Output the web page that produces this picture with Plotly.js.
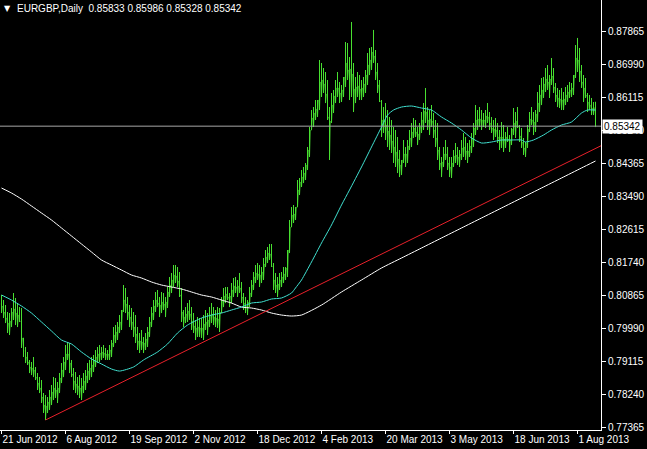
<!DOCTYPE html>
<html>
<head>
<meta charset="utf-8">
<script src="https://cdn.plot.ly/plotly-3.0.1.min.js"></script>
<style>
  html, body { margin: 0; padding: 0; background: #000; }
  #chart { width: 647px; height: 449px; }
</style>
</head>
<body>
<div id="chart"></div>
<script>
// ---- Data (EURGBP, Daily) ----
const symbolTitle = 'EURGBP,Daily';
const tickIdx = [0, 32, 64, 96, 128, 160, 192, 224, 256, 288];
const tickLabels = ['21 Jun 2012', '6 Aug 2012', '19 Sep 2012', '2 Nov 2012', '18 Dec 2012',
  '4 Feb 2013', '20 Mar 2013', '3 May 2013', '18 Jun 2013', '1 Aug 2013'];
const priceTicks = [0.77365, 0.78240, 0.79115, 0.79990, 0.80865, 0.81740, 0.82615,
  0.83490, 0.84365, 0.85240, 0.86115, 0.86990, 0.87865];

const openPrices = [
0.80626,0.80573,0.80414,0.80255,0.80122,0.80175,0.80414,0.80493,0.80387,0.80334,
0.80175,0.79725,0.79380,0.79221,0.79089,0.78956,0.78930,0.78876,0.78690,0.78531,
0.78399,0.78160,0.77948,0.77922,0.78028,0.78160,0.78293,0.78399,0.78346,0.78399,
0.78664,0.78876,0.79089,0.79301,0.79301,0.79062,0.78770,0.78584,0.78505,0.78452,
0.78399,0.78452,0.78584,0.78717,0.78849,0.78930,0.79009,0.79115,0.79221,0.79301,
0.79327,0.79354,0.79327,0.79301,0.79301,0.79407,0.79592,0.79804,0.79884,0.80016,
0.80149,0.80467,0.80732,0.80626,0.80414,0.80281,0.80149,0.80016,0.79831,0.79645,
0.79645,0.79619,0.79592,0.79698,0.79884,0.80149,0.80387,0.80573,0.80732,0.80652,
0.80599,0.80679,0.80626,0.80679,0.80945,0.81130,0.81263,0.81395,0.81369,0.81236,
0.80865,0.80414,0.80281,0.80361,0.80440,0.80361,0.80175,0.80043,0.79990,0.80016,
0.79990,0.79990,0.80096,0.80149,0.80202,0.80334,0.80361,0.80281,0.80255,0.80228,
0.80414,0.80705,0.80839,0.80892,0.80812,0.80839,0.80998,0.81104,0.81077,0.81104,
0.81051,0.80812,0.80652,0.80573,0.80679,0.80918,0.81130,0.81342,0.81448,0.81422,
0.81395,0.81475,0.81687,0.81872,0.81978,0.81952,0.81634,0.81263,0.81130,0.81157,
0.81263,0.81342,0.81422,0.81581,0.82058,0.82668,0.82986,0.83013,0.83198,0.83649,
0.83861,0.83993,0.84099,0.84312,0.84710,0.85240,0.85558,0.85690,0.85796,0.86035,
0.86513,0.86566,0.86460,0.86195,0.85584,0.85478,0.85902,0.86142,0.86354,0.86354,
0.86221,0.86301,0.86645,0.87016,0.86831,0.86857,0.86725,0.86327,0.86380,0.86407,
0.86327,0.86354,0.86460,0.86698,0.86963,0.87096,0.87308,0.87202,0.86778,0.86433,
0.86008,0.85505,0.85478,0.85372,0.85213,0.85107,0.84948,0.84789,0.84657,0.84471,
0.84312,0.84445,0.84604,0.84604,0.84816,0.85028,0.85187,0.85293,0.85187,0.85134,
0.85319,0.85505,0.85743,0.85717,0.85505,0.85531,0.85478,0.85240,0.85028,0.84710,
0.84365,0.84392,0.84604,0.84604,0.84365,0.84259,0.84365,0.84551,0.84577,0.84524,
0.84604,0.84763,0.84789,0.84683,0.84683,0.84816,0.85001,0.85293,0.85505,0.85531,
0.85531,0.85505,0.85505,0.85611,0.85584,0.85425,0.85293,0.85266,0.85240,0.85054,
0.85054,0.85054,0.85001,0.85054,0.85001,0.84975,0.85266,0.85425,0.85478,0.85346,
0.85081,0.84922,0.84763,0.84895,0.85266,0.85531,0.85505,0.85452,0.85664,0.85955,
0.86168,0.86301,0.86460,0.86592,0.86513,0.86592,0.86672,0.86380,0.86168,0.86089,
0.86062,0.86035,0.86062,0.86168,0.86248,0.86301,0.86354,0.86698,0.87149,0.87096,
0.86804,0.86513,0.86354,0.86168,0.85982,0.85902,0.85823,0.85833];

const highPrices = [
0.80865,0.80732,0.80599,0.80414,0.80387,0.80520,0.80918,0.80786,0.80652,0.80546,
0.80520,0.79725,0.79486,0.79354,0.79142,0.79089,0.79221,0.78956,0.78796,0.78690,
0.78611,0.78266,0.78213,0.78160,0.78346,0.78478,0.78690,0.78664,0.78558,0.78796,
0.79062,0.79221,0.79539,0.79619,0.79592,0.79142,0.78930,0.78823,0.78690,0.78743,
0.78664,0.78796,0.78876,0.79062,0.79142,0.79221,0.79274,0.79407,0.79486,0.79539,
0.79486,0.79539,0.79460,0.79407,0.79539,0.79672,0.80016,0.80069,0.80149,0.80334,
0.80467,0.81130,0.81051,0.80812,0.80599,0.80520,0.80414,0.80334,0.80016,0.79857,
0.79937,0.79751,0.79857,0.80016,0.80281,0.80546,0.80732,0.80945,0.80998,0.80812,
0.80945,0.80918,0.80812,0.81077,0.81342,0.81448,0.81660,0.81660,0.81607,0.81475,
0.81051,0.80467,0.80546,0.80652,0.80732,0.80546,0.80387,0.80202,0.80281,0.80255,
0.80255,0.80334,0.80467,0.80387,0.80546,0.80652,0.80546,0.80467,0.80546,0.80520,
0.80812,0.81051,0.81077,0.81077,0.80918,0.81183,0.81316,0.81342,0.81263,0.81448,
0.81210,0.80918,0.80812,0.80732,0.81077,0.81263,0.81475,0.81660,0.81713,0.81660,
0.81607,0.81846,0.82058,0.82137,0.82217,0.82217,0.81713,0.81448,0.81342,0.81448,
0.81475,0.81607,0.81607,0.82058,0.82854,0.83198,0.83251,0.83198,0.83914,0.83967,
0.84179,0.84259,0.84365,0.84789,0.85319,0.85770,0.85849,0.86035,0.86035,0.87096,
0.87016,0.86884,0.86778,0.86566,0.85849,0.86221,0.86301,0.86566,0.86778,0.86513,
0.86433,0.86645,0.87573,0.87546,0.87175,0.88104,0.87016,0.86645,0.86778,0.86698,
0.86566,0.86645,0.86831,0.87281,0.87414,0.87440,0.87892,0.87361,0.87016,0.86566,
0.86035,0.85849,0.85955,0.85770,0.85584,0.85505,0.85319,0.85240,0.85054,0.84710,
0.84445,0.84975,0.84789,0.84975,0.85240,0.85425,0.85558,0.85505,0.85319,0.85425,
0.85717,0.85955,0.86354,0.85849,0.85770,0.85902,0.85690,0.85505,0.85425,0.84789,
0.84524,0.84789,0.84975,0.84789,0.84524,0.84524,0.84710,0.84895,0.84789,0.84710,
0.84975,0.85160,0.85054,0.84895,0.84975,0.85160,0.85425,0.85902,0.85770,0.85849,
0.85770,0.85690,0.85770,0.85955,0.85717,0.85584,0.85505,0.85558,0.85425,0.85240,
0.85452,0.85372,0.85187,0.85319,0.85107,0.85293,0.85823,0.85717,0.85849,0.85372,
0.85293,0.85028,0.84922,0.85372,0.85717,0.85849,0.85717,0.85770,0.86248,0.86433,
0.86619,0.86645,0.86884,0.86963,0.86698,0.87149,0.86884,0.86486,0.86354,0.86301,
0.86354,0.86248,0.86380,0.86433,0.86513,0.86486,0.86698,0.87493,0.87680,0.87414,
0.86963,0.86698,0.86619,0.86221,0.86168,0.86089,0.85982,0.85986];

const lowPrices = [
0.80387,0.80255,0.80122,0.79857,0.79804,0.80016,0.80202,0.80069,0.80016,0.80149,
0.79460,0.79221,0.79062,0.79009,0.78796,0.78743,0.78690,0.78611,0.78346,0.78266,
0.78001,0.77736,0.77551,0.77736,0.77816,0.77948,0.78081,0.78134,0.78001,0.78266,
0.78531,0.78690,0.78876,0.79142,0.78796,0.78690,0.78346,0.78266,0.78213,0.78134,
0.78081,0.78266,0.78346,0.78531,0.78611,0.78690,0.78823,0.78956,0.79062,0.79089,
0.79142,0.79195,0.79142,0.79142,0.79142,0.79221,0.79486,0.79592,0.79672,0.79857,
0.79937,0.80414,0.80387,0.80202,0.80016,0.79937,0.79751,0.79592,0.79407,0.79327,
0.79407,0.79327,0.79407,0.79486,0.79751,0.80016,0.80202,0.80414,0.80546,0.80281,
0.80387,0.80467,0.80281,0.80520,0.80812,0.80918,0.81077,0.81183,0.81077,0.80812,
0.80149,0.80016,0.80122,0.80149,0.80202,0.79937,0.79857,0.79672,0.79751,0.79751,
0.79725,0.79672,0.79937,0.79804,0.80016,0.80122,0.80069,0.80016,0.79990,0.79884,
0.80387,0.80546,0.80652,0.80732,0.80546,0.80652,0.80812,0.80918,0.80812,0.80918,
0.80652,0.80467,0.80387,0.80334,0.80546,0.80812,0.80998,0.81183,0.81263,0.81077,
0.81183,0.81263,0.81607,0.81713,0.81793,0.81607,0.80998,0.80918,0.80812,0.80998,
0.81077,0.81183,0.81263,0.81342,0.81978,0.82668,0.82774,0.82854,0.83198,0.83516,
0.83728,0.83834,0.83914,0.84179,0.84524,0.85240,0.85319,0.85505,0.85584,0.85770,
0.86115,0.86221,0.85955,0.85505,0.84445,0.85425,0.85690,0.85955,0.86115,0.85955,
0.85982,0.86115,0.86380,0.86566,0.86035,0.86115,0.85717,0.85955,0.86115,0.86035,
0.86035,0.86115,0.86221,0.86433,0.86698,0.86831,0.87016,0.86566,0.86221,0.85982,
0.85054,0.85160,0.84975,0.84789,0.84710,0.84630,0.84365,0.84259,0.84099,0.83993,
0.84046,0.84365,0.84259,0.84365,0.84710,0.84789,0.85028,0.85054,0.84842,0.84975,
0.85160,0.85240,0.85425,0.85240,0.85107,0.85319,0.85028,0.84789,0.84445,0.84179,
0.83993,0.84259,0.84445,0.84179,0.83993,0.83967,0.84259,0.84365,0.84312,0.84259,
0.84445,0.84524,0.84445,0.84365,0.84524,0.84630,0.84789,0.85107,0.85240,0.85319,
0.85240,0.85319,0.85293,0.85425,0.85240,0.85160,0.84975,0.85054,0.84895,0.84710,
0.84763,0.84657,0.84763,0.84922,0.84657,0.84842,0.85107,0.85028,0.85293,0.84922,
0.84763,0.84577,0.84524,0.84763,0.85187,0.85372,0.85107,0.85187,0.85452,0.85717,
0.85902,0.86089,0.86248,0.86301,0.86089,0.86433,0.86221,0.85982,0.85849,0.85823,
0.85770,0.85770,0.85902,0.85982,0.86089,0.86115,0.86168,0.86619,0.86778,0.86513,
0.86354,0.85982,0.86089,0.85717,0.85770,0.85637,0.85637,0.85328];

const closePrices = [
0.80573,0.80414,0.80255,0.80122,0.80175,0.80414,0.80493,0.80387,0.80334,0.80175,
0.79725,0.79380,0.79221,0.79089,0.78956,0.78930,0.78876,0.78690,0.78531,0.78399,
0.78160,0.77948,0.77922,0.78028,0.78160,0.78293,0.78399,0.78346,0.78399,0.78664,
0.78876,0.79089,0.79301,0.79301,0.79062,0.78770,0.78584,0.78505,0.78452,0.78399,
0.78452,0.78584,0.78717,0.78849,0.78930,0.79009,0.79115,0.79221,0.79301,0.79327,
0.79354,0.79327,0.79301,0.79301,0.79407,0.79592,0.79804,0.79884,0.80016,0.80149,
0.80467,0.80732,0.80626,0.80414,0.80281,0.80149,0.80016,0.79831,0.79645,0.79645,
0.79619,0.79592,0.79698,0.79884,0.80149,0.80387,0.80573,0.80732,0.80652,0.80599,
0.80679,0.80626,0.80679,0.80945,0.81130,0.81263,0.81395,0.81369,0.81236,0.80865,
0.80414,0.80281,0.80361,0.80440,0.80361,0.80175,0.80043,0.79990,0.80016,0.79990,
0.79990,0.80096,0.80149,0.80202,0.80334,0.80361,0.80281,0.80255,0.80228,0.80414,
0.80705,0.80839,0.80892,0.80812,0.80839,0.80998,0.81104,0.81077,0.81104,0.81051,
0.80812,0.80652,0.80573,0.80679,0.80918,0.81130,0.81342,0.81448,0.81422,0.81395,
0.81475,0.81687,0.81872,0.81978,0.81952,0.81634,0.81263,0.81130,0.81157,0.81263,
0.81342,0.81422,0.81581,0.82058,0.82668,0.82986,0.83013,0.83198,0.83649,0.83861,
0.83993,0.84099,0.84312,0.84710,0.85240,0.85558,0.85690,0.85796,0.86035,0.86513,
0.86566,0.86460,0.86195,0.85584,0.85478,0.85902,0.86142,0.86354,0.86354,0.86221,
0.86301,0.86645,0.87016,0.86831,0.86857,0.86725,0.86327,0.86380,0.86407,0.86327,
0.86354,0.86460,0.86698,0.86963,0.87096,0.87308,0.87202,0.86778,0.86433,0.86008,
0.85505,0.85478,0.85372,0.85213,0.85107,0.84948,0.84789,0.84657,0.84471,0.84312,
0.84445,0.84604,0.84604,0.84816,0.85028,0.85187,0.85293,0.85187,0.85134,0.85319,
0.85505,0.85743,0.85717,0.85505,0.85531,0.85478,0.85240,0.85028,0.84710,0.84365,
0.84392,0.84604,0.84604,0.84365,0.84259,0.84365,0.84551,0.84577,0.84524,0.84604,
0.84763,0.84789,0.84683,0.84683,0.84816,0.85001,0.85293,0.85505,0.85531,0.85531,
0.85505,0.85505,0.85611,0.85584,0.85425,0.85293,0.85266,0.85240,0.85054,0.85054,
0.85054,0.85001,0.85054,0.85001,0.84975,0.85266,0.85425,0.85478,0.85346,0.85081,
0.84922,0.84763,0.84895,0.85266,0.85531,0.85505,0.85452,0.85664,0.85955,0.86168,
0.86301,0.86460,0.86592,0.86513,0.86592,0.86672,0.86380,0.86168,0.86089,0.86062,
0.86035,0.86062,0.86168,0.86248,0.86301,0.86354,0.86698,0.87149,0.87096,0.86804,
0.86513,0.86354,0.86168,0.85982,0.85902,0.85823,0.85833,0.85342];

// Moving averages (sampled along the drawn curves)
const fastMaIdx = [0,5,10,15,20,25,30,35,40,45,50,55,59,66,71,78,83,88,93,100,
  105,110,115,120,125,130,135,140,145,147,150,155,160,165,170,174,180,185,190,193,
  196,200,205,210,215,220,225,230,235,240,245,250,255,260,262,266,271,275,280,285,
  290,293,297];
const fastMaVals = [0.80865,0.80732,0.80573,0.80387,0.80149,0.79910,0.79672,0.79566,0.79354,0.79168,
  0.79036,0.78903,0.78849,0.78956,0.79142,0.79354,0.79566,0.79857,0.80069,0.80255,
  0.80334,0.80387,0.80467,0.80546,0.80652,0.80679,0.80759,0.80786,0.80918,0.81051,
  0.81263,0.81740,0.82243,0.82721,0.83251,0.83649,0.84259,0.84789,0.85319,0.85637,
  0.85770,0.85849,0.85876,0.85823,0.85770,0.85584,0.85425,0.85240,0.85028,0.84895,
  0.84922,0.84975,0.84975,0.84975,0.84922,0.84975,0.85107,0.85240,0.85372,0.85452,
  0.85690,0.85770,0.85770];
const slowMaIdx = [0,5,10,15,20,25,30,35,40,45,50,55,60,65,70,75,80,85,90,95,
  100,105,110,115,120,125,130,135,140,145,150,160,170,180,190,200,210,220,230,240,
  250,260,270,280,290,297];
const slowMaVals = [0.83702,0.83569,0.83410,0.83225,0.83039,0.82854,0.82642,0.82430,0.82217,0.82005,
  0.81793,0.81660,0.81528,0.81395,0.81316,0.81210,0.81130,0.81077,0.81024,0.80945,
  0.80865,0.80812,0.80732,0.80652,0.80546,0.80520,0.80467,0.80387,0.80334,0.80308,
  0.80334,0.80599,0.80945,0.81263,0.81581,0.81846,0.82111,0.82377,0.82642,0.82907,
  0.83172,0.83437,0.83702,0.83967,0.84233,0.84418];

// Trend line anchors (bar index, price)
const trendIdx = [22, 300];
const trendVals = [0.77551, 0.84829];

const bidPrice = closePrices[closePrices.length - 1];
const lastBar = closePrices.length - 1;

// ---- Build the OHLC bar glyphs (high-low stem + open/close ticks) ----
const tickHalf = 0.3;
const barX = [], barY = [];
closePrices.forEach((c, i) => {
  barX.push(i - tickHalf, i, i, i, i, i + tickHalf, null);
  barY.push(openPrices[i], openPrices[i], highPrices[i], lowPrices[i], c, c, null);
});
const fmt = v => v.toFixed(5);

const traces = [
  {
    type: 'scatter', mode: 'lines', x: barX, y: barY, connectgaps: false,
    line: { color: '#48e030', width: 1 }, hoverinfo: 'skip', showlegend: false
  },
  {
    type: 'scatter', mode: 'lines', x: slowMaIdx, y: slowMaVals,
    line: { color: '#ffffff', width: 1, shape: 'spline', smoothing: 0.6 },
    hoverinfo: 'skip', showlegend: false
  },
  {
    type: 'scatter', mode: 'lines', x: fastMaIdx, y: fastMaVals,
    line: { color: '#40e0d0', width: 1, shape: 'spline', smoothing: 0.6 },
    hoverinfo: 'skip', showlegend: false
  },
  {
    type: 'scatter', mode: 'lines', x: trendIdx, y: trendVals,
    line: { color: '#e8202a', width: 1 }, hoverinfo: 'skip', showlegend: false
  }
];

const fontFam = 'Liberation Sans, Arial, sans-serif';

const layout = {
  width: 647, height: 449,
  margin: { l: 0, r: 46, t: 0, b: 19, pad: 0 },
  paper_bgcolor: '#000000', plot_bgcolor: '#000000',
  showlegend: false,
  xaxis: {
    range: [-0.75, 299.75], fixedrange: true,
    showgrid: false, zeroline: false,
    showline: true, linecolor: '#ffffff', linewidth: 1,
    ticks: 'outside', ticklen: 3, tickcolor: '#ffffff', tickwidth: 1,
    tickmode: 'array', tickvals: tickIdx, ticktext: tickLabels,
    ticklabelposition: 'outside right',
    tickfont: { family: fontFam, size: 10, color: '#ffffff' }
  },
  yaxis: {
    side: 'right', range: [0.77286, 0.88687], fixedrange: true,
    showgrid: false, zeroline: false,
    showline: true, linecolor: '#ffffff', linewidth: 1,
    ticks: 'outside', ticklen: 4, tickcolor: '#ffffff', tickwidth: 1,
    tickmode: 'array', tickvals: priceTicks, ticktext: priceTicks.map(fmt),
    tickfont: { family: fontFam, size: 10, color: '#ffffff' }
  },
  shapes: [
    { type: 'line', xref: 'paper', x0: 0, x1: 1, yref: 'y', y0: bidPrice, y1: bidPrice,
      line: { color: '#a8a8a8', width: 1 } }
  ],
  annotations: [
    { xref: 'paper', yref: 'paper', x: 0.004, y: 1, xanchor: 'left', yanchor: 'top', yshift: -2,
      text: '▼', showarrow: false, font: { family: 'DejaVu Sans', size: 8, color: '#ffffff' } },
    { xref: 'paper', yref: 'paper', x: 0.025, y: 1, xanchor: 'left', yanchor: 'top', yshift: -1,
      text: symbolTitle + '\u00a0\u00a0' + [openPrices[lastBar], highPrices[lastBar], lowPrices[lastBar], closePrices[lastBar]].map(fmt).join(' '),
      showarrow: false, font: { family: fontFam, size: 10, color: '#ffffff' } },
    { xref: 'paper', yref: 'y', x: 1, y: bidPrice, xanchor: 'left', yanchor: 'middle', xshift: 1,
      text: fmt(bidPrice), showarrow: false, bgcolor: '#ffffff', borderpad: 1,
      font: { family: fontFam, size: 10, color: '#000000' } }
  ]
};

Plotly.newPlot('chart', traces, layout, { staticPlot: true, displayModeBar: false });
</script>
</body>
</html>
